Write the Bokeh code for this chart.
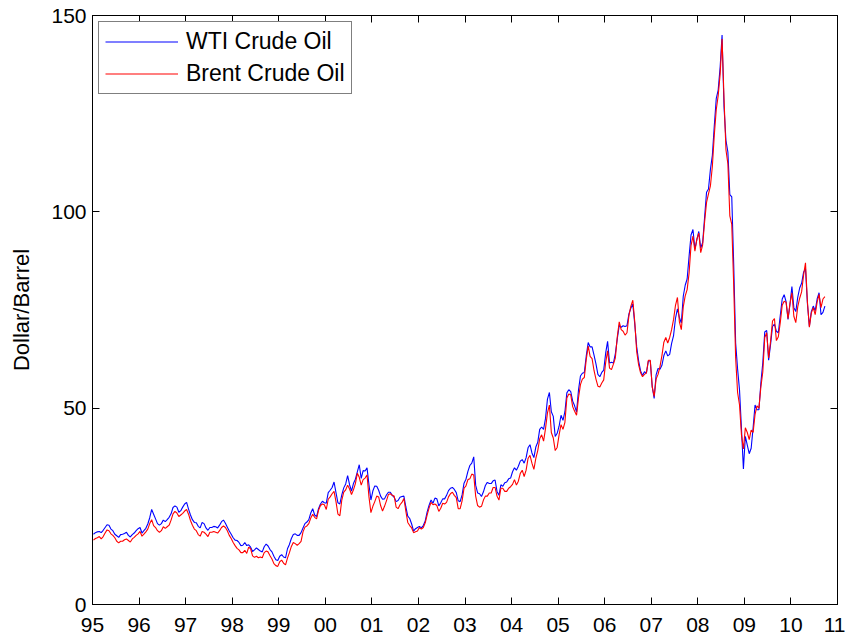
from bokeh.plotting import figure
from bokeh.models import LinearAxis, FixedTicker, Range1d, Legend, LegendItem
from bokeh.embed import file_html
from bokeh.resources import INLINE

# Semi-monthly prices (two values per month), Jan 1995 .. Sep 2010
wti = [
    17.9, 18.3, 18.5, 18.6, 18.3, 18.9, 19.6, 20.3, 20.2, 19.2, 18.8, 17.9, 17.5, 17.1, 17.8, 17.9, 18.1, 18.4, 17.6, 17.2, 17.8, 18.2, 18.8, 19.3,  # 1995
    19.6, 18.2, 18.8, 19.4, 20.5, 22.1, 24.2, 23.0, 21.8, 20.6, 20.2, 20.6, 21.5, 21.1, 21.6, 22.2, 23.1, 24.7, 25.1, 24.8, 23.5, 23.9, 24.8, 25.6,  # 1996
    26.0, 24.3, 22.8, 21.6, 20.9, 20.8, 19.9, 19.5, 20.9, 20.6, 19.5, 18.9, 19.6, 19.6, 19.9, 19.8, 19.5, 20.2, 21.1, 21.5, 20.7, 19.7, 18.7, 17.9,  # 1997
    17.0, 16.4, 16.3, 15.8, 15.0, 15.1, 15.8, 15.0, 15.2, 14.6, 13.5, 13.9, 14.4, 14.0, 13.6, 13.4, 14.7, 15.4, 14.9, 14.0, 13.4, 12.3, 11.4, 11.2,  # 1998
    12.3, 12.7, 12.1, 11.9, 14.2, 15.3, 16.8, 17.8, 18.0, 17.6, 17.6, 18.3, 19.5, 20.6, 21.0, 21.6, 23.3, 24.4, 22.8, 22.4, 24.4, 25.6, 26.3, 25.9,  # 1999
    25.8, 28.5, 29.1, 29.8, 31.2, 28.5, 25.9, 25.6, 27.9, 29.7, 30.7, 32.8, 30.5, 28.9, 30.8, 31.9, 33.8, 35.6, 32.1, 34.1, 34.0, 34.8, 30.5, 26.6,  # 2000
    28.9, 30.2, 30.1, 29.1, 27.6, 26.8, 26.9, 27.9, 28.6, 28.6, 27.8, 27.3, 26.2, 26.5, 27.3, 27.5, 27.6, 24.9, 22.5, 21.9, 20.5, 18.7, 19.3, 19.6,  # 2001
    19.9, 19.5, 20.1, 21.3, 23.6, 25.3, 26.6, 25.8, 27.1, 26.9, 25.1, 25.9, 26.9, 26.9, 27.8, 29.0, 29.6, 29.8, 29.3, 28.5, 26.4, 26.2, 27.9, 30.9,  # 2002
    31.9, 33.9, 35.4, 36.0, 37.6, 30.4, 28.4, 28.2, 27.5, 28.7, 30.3, 31.1, 30.8, 30.8, 31.5, 31.7, 28.8, 27.8, 30.5, 30.1, 31.0, 31.2, 32.0, 32.2,  # 2003
    33.8, 34.8, 34.2, 35.2, 36.5, 36.9, 36.0, 37.4, 39.9, 40.7, 38.6, 37.4, 40.1, 41.3, 44.6, 45.2, 44.6, 47.4, 52.3, 54.0, 49.1, 47.9, 42.8, 43.6,  # 2004
    45.4, 48.2, 46.9, 49.1, 53.9, 54.7, 54.2, 51.8, 50.6, 49.0, 54.6, 58.2, 58.9, 59.1, 63.3, 66.7, 65.6, 65.6, 63.5, 61.3, 58.6, 58.0, 59.1, 59.7,  # 2005
    64.0, 67.0, 61.5, 61.7, 61.5, 63.9, 67.7, 71.1, 70.6, 71.0, 70.8, 71.0, 74.0, 75.5, 76.5, 71.4, 65.6, 62.0, 59.5, 58.3, 59.3, 58.9, 62.0, 62.0,  # 2006
    55.5, 52.5, 58.5, 60.1, 59.9, 60.9, 63.4, 64.6, 63.3, 63.7, 66.5, 68.5, 72.9, 75.3, 73.1, 71.7, 78.5, 81.3, 82.9, 88.7, 94.1, 95.5, 90.5, 92.9,  # 2007
    95.0, 90.8, 92.2, 98.6, 105.0, 105.8, 110.8, 114.4, 122.0, 128.8, 131.0, 136.8, 145.0, 126.8, 118.2, 115.2, 104.4, 103.8, 86.6, 66.6, 60.0, 54.6, 44.8, 34.5,  # 2008
    42.8, 40.6, 38.4, 39.8, 45.0, 50.8, 49.6, 49.6, 56.4, 61.6, 69.4, 69.8, 62.2, 66.2, 70.8, 71.4, 69.6, 69.2, 73.6, 77.8, 78.9, 77.1, 72.6, 76.4,  # 2009
    81.0, 75.6, 74.6, 78.2, 80.6, 81.8, 84.6, 85.5, 76.6, 70.8, 74.6, 76.0, 74.8, 77.8, 79.4, 73.8, 74.4, 76.0,  # 2010
]

brent = [
    16.4, 16.8, 17.0, 17.3, 16.7, 17.3, 18.2, 19.0, 18.8, 18.0, 17.6, 17.0, 16.1, 15.7, 16.1, 16.1, 16.5, 16.7, 16.3, 15.9, 16.7, 17.1, 17.6, 18.0,  # 1995
    18.6, 17.4, 17.9, 18.5, 19.2, 20.6, 21.6, 20.1, 19.6, 18.8, 18.4, 18.8, 19.8, 19.4, 19.8, 20.2, 21.5, 23.1, 23.7, 23.3, 22.4, 22.8, 23.2, 23.8,  # 1996
    24.2, 23.0, 21.4, 20.2, 19.2, 18.8, 17.8, 17.4, 18.6, 18.4, 17.9, 17.3, 18.4, 18.4, 18.6, 18.4, 18.2, 18.8, 19.6, 20.0, 19.6, 18.8, 17.6, 16.8,  # 1997
    15.8, 15.0, 14.3, 13.9, 13.2, 13.2, 13.8, 13.0, 14.6, 14.2, 12.4, 12.0, 12.3, 11.9, 12.1, 11.9, 13.2, 13.6, 13.4, 12.4, 11.6, 10.4, 9.9, 9.7,  # 1998
    10.9, 11.3, 10.5, 10.1, 11.8, 13.2, 14.8, 15.8, 15.5, 15.1, 15.5, 16.1, 18.5, 19.7, 20.0, 20.6, 22.0, 23.0, 22.2, 21.8, 24.0, 25.2, 25.6, 25.4,  # 1999
    24.2, 26.8, 27.4, 28.2, 28.8, 26.2, 23.0, 22.6, 26.6, 28.6, 29.2, 30.4, 29.4, 28.0, 29.2, 30.8, 33.4, 32.4, 30.4, 31.8, 32.2, 33.0, 27.4, 23.4,  # 2000
    25.0, 26.2, 27.6, 27.4, 25.2, 23.8, 25.0, 26.4, 28.0, 28.2, 27.8, 27.6, 24.8, 24.4, 25.4, 26.0, 27.0, 23.8, 20.9, 20.1, 19.5, 18.3, 18.5, 18.7,  # 2001
    19.6, 19.2, 19.6, 20.8, 22.8, 24.6, 26.0, 25.4, 25.6, 25.2, 23.7, 24.5, 25.8, 25.6, 26.0, 27.4, 28.2, 28.6, 27.8, 27.2, 24.4, 24.4, 26.4, 29.6,  # 2002
    30.2, 31.8, 32.0, 33.2, 33.0, 27.6, 25.2, 24.8, 25.0, 26.6, 27.6, 27.6, 28.4, 28.4, 29.8, 29.8, 27.6, 26.6, 29.6, 29.6, 28.8, 28.8, 29.6, 30.0,  # 2003
    30.6, 31.8, 30.4, 31.4, 33.4, 34.2, 32.6, 34.2, 37.2, 38.0, 36.0, 34.4, 37.2, 39.2, 42.2, 43.2, 41.6, 44.8, 48.8, 50.8, 43.8, 42.4, 39.2, 40.0,  # 2004
    43.2, 45.8, 44.6, 46.4, 52.6, 53.6, 53.4, 50.4, 49.2, 48.2, 52.6, 56.0, 57.4, 57.8, 62.4, 65.8, 63.2, 62.6, 59.6, 57.4, 55.6, 55.4, 56.4, 57.2,  # 2005
    61.6, 64.6, 60.2, 59.8, 61.2, 62.8, 68.2, 72.0, 70.0, 69.6, 68.6, 69.2, 73.6, 76.0, 77.5, 72.0, 64.4, 61.0, 59.0, 58.0, 58.6, 59.0, 62.2, 62.2,  # 2006
    55.4, 53.0, 57.4, 58.6, 60.6, 63.4, 66.8, 68.0, 66.6, 68.0, 70.0, 72.6, 76.2, 78.2, 72.0, 70.0, 75.8, 78.6, 80.2, 84.4, 91.4, 93.8, 90.0, 93.0,  # 2007
    94.6, 89.6, 91.6, 97.4, 102.4, 104.6, 106.6, 111.6, 119.6, 126.0, 129.6, 135.0, 144.0, 129.0, 115.8, 112.2, 99.0, 96.8, 81.4, 62.8, 54.0, 50.8, 43.2, 39.6,  # 2008
    45.0, 43.8, 42.0, 44.4, 43.8, 48.4, 50.6, 50.0, 55.4, 59.2, 68.0, 69.2, 62.8, 67.0, 72.2, 72.8, 67.2, 68.2, 71.8, 76.2, 77.2, 77.0, 72.8, 76.6,  # 2009
    79.4, 73.4, 71.8, 75.8, 78.0, 79.6, 83.8, 87.0, 77.0, 70.6, 74.2, 75.6, 73.8, 77.0, 79.0, 75.6, 77.8, 78.4,  # 2010
]

year_ticks = list(range(1995, 2012))
year_labels = ["95", "96", "97", "98", "99", "00", "01", "02", "03",
               "04", "05", "06", "07", "08", "09", "10", "11"]
y_ticks = [0, 50, 100, 150]

start_year = 1995
dates = [start_year + (i + 0.5) / 24.0 for i in range(len(wti))]

FONT = "Liberation Sans"

p = figure(width=845, height=634, output_backend="svg", toolbar_location=None,
           x_range=Range1d(1995, 2011), y_range=Range1d(0, 150),
           min_border_left=92, min_border_right=8, min_border_top=15,
           min_border_bottom=30)
p.grid.visible = False
p.outline_line_color = "black"
p.outline_line_width = 1
p.background_fill_color = "white"
p.border_fill_color = "white"

r_wti = p.line(dates, wti, line_color="#0000ff", line_width=1.1)
r_brent = p.line(dates, brent, line_color="#ff0000", line_width=1.1)


def style_axis(ax, labels=True):
    ax.axis_line_color = "black"
    ax.axis_line_width = 1
    ax.major_tick_line_color = "black"
    ax.major_tick_in = 7
    ax.major_tick_out = 0
    ax.minor_tick_line_color = None
    ax.major_label_text_font = FONT
    ax.major_label_text_color = "black"
    if labels:
        ax.major_label_text_font_size = "21px"
    else:
        ax.major_label_text_font_size = "0px"
        ax.major_label_standoff = 0


xa = p.xaxis[0]
xa.ticker = FixedTicker(ticks=year_ticks)
xa.major_label_overrides = {t: l for t, l in zip(year_ticks, year_labels)}
style_axis(xa)
xa.major_label_standoff = 13

ya = p.yaxis[0]
ya.ticker = FixedTicker(ticks=y_ticks)
style_axis(ya)
ya.major_label_standoff = 6
ya.axis_label = "Dollar/Barrel"
ya.axis_label_text_font = FONT
ya.axis_label_text_font_size = "22px"
ya.axis_label_text_font_style = "normal"
ya.axis_label_text_color = "black"
ya.axis_label_standoff = 14

top = LinearAxis(ticker=FixedTicker(ticks=year_ticks))
style_axis(top, labels=False)
top.major_label_overrides = {t: "" for t in year_ticks}
p.add_layout(top, "above")

right = LinearAxis(ticker=FixedTicker(ticks=y_ticks))
style_axis(right, labels=False)
right.major_label_overrides = {t: "" for t in y_ticks}
p.add_layout(right, "right")

legend = Legend(items=[LegendItem(label="WTI Crude Oil", renderers=[r_wti]),
                       LegendItem(label="Brent Crude Oil", renderers=[r_brent])],
                location="top_left")
legend.margin = 6
legend.padding = 6
legend.spacing = 5
legend.glyph_width = 73
legend.glyph_height = 27
legend.label_height = 27
legend.label_standoff = 8
legend.label_text_font = FONT
legend.label_text_font_size = "23px"
legend.label_text_color = "black"
legend.border_line_color = "black"
legend.border_line_width = 1
legend.background_fill_color = "white"
legend.background_fill_alpha = 1
p.add_layout(legend)

open("out.html", "w").write(file_html(p, INLINE))
